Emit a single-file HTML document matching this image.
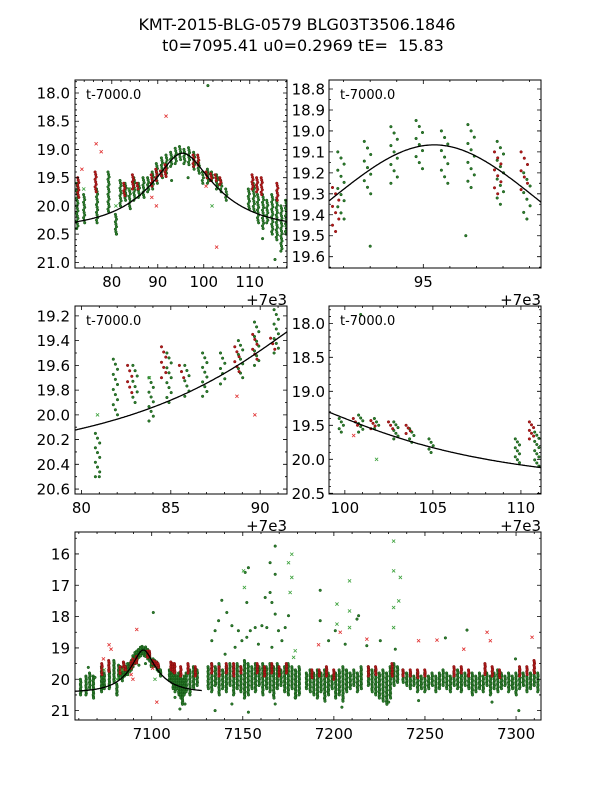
<!DOCTYPE html>
<html><head><meta charset="utf-8">
<style>
html,body{margin:0;padding:0;background:#fff;}
svg{display:block;font-family:"DejaVu Sans","Liberation Sans",sans-serif;}
</style></head>
<body>
<svg id="fig" width="600" height="800" viewBox="0 0 600 800" xmlns="http://www.w3.org/2000/svg">
<rect width="600" height="800" fill="#fff"/>
<text x="297" y="30" font-size="16" text-anchor="middle">KMT-2015-BLG-0579 BLG03T3506.1846</text>
<text x="303" y="51" font-size="16" text-anchor="middle" xml:space="preserve">t0=7095.41 u0=0.2969 tE=  15.83</text>
<g id="layer"></g>
</svg>
<script>
// model parameters
const t0 = 7095.41, u0 = 0.2969, tE = 15.83, baseMag = 20.42;

// green nightly strips: [time, brightest mag, faintest mag]
const greenNights = [
[7061,20.0,20.5],[7064,19.9,20.5],[7066,19.8,20.3],[7068,19.9,20.6],
[7072.5,19.6,20.4],[7074,19.8,20.3],[7076.8,19.7,20.3],[7079.3,19.4,20.1],[7080.9,20.15,20.5],
[7081.9,19.55,20.0],[7083,19.6,19.9],[7083.9,19.7,20.05],[7084.9,19.5,19.9],[7085.9,19.6,19.85],
[7086.9,19.5,19.85],[7087.9,19.5,19.75],[7088.9,19.4,19.7],[7089.8,19.25,19.6],[7090.9,19.15,19.5],
[7091.9,19.1,19.42],[7092.9,19.05,19.3],[7093.9,18.98,19.25],[7094.85,18.95,19.18],[7095.8,19.0,19.25],
[7096.8,18.97,19.27],[7097.9,19.05,19.35],[7098.9,19.2,19.42],[7099.8,19.4,19.6],[7100.9,19.35,19.6],
[7101.8,19.4,19.55],[7102.9,19.45,19.7],[7103.8,19.55,19.75],[7104.9,19.7,19.9],
[7109.8,19.7,20.05],[7110.9,19.6,20.1],[7111.8,19.8,20.3],[7112.9,19.8,20.4],[7113.8,19.9,20.3],
[7114.9,19.8,20.5],[7115.9,19.9,20.6],[7116.9,20.0,20.8],[7117.9,19.9,20.5],[7119,19.8,20.4],
[7121,19.7,20.5],[7123,19.6,20.3],[7125,19.7,20.2],
[7131,19.6,20.3],[7133,19.5,20.4],[7135,19.6,20.2],[7137,19.5,20.5],[7139,19.7,20.3],[7141,19.6,20.4],
[7143,19.5,20.2],[7145,19.6,20.5],[7147,19.5,20.3],[7149,19.6,20.4],[7151,19.4,20.6],[7153,19.5,20.5],
[7155,19.6,20.3],[7157,19.5,20.4],[7159,19.6,20.2],[7161,19.5,20.5],[7163,19.6,20.3],[7165,19.5,20.4],
[7167,19.6,20.6],[7169,19.5,20.3],[7171,19.7,20.2],[7173,19.6,20.4],[7175,19.5,20.5],[7177,19.6,20.3],
[7179,19.7,20.6],[7181,19.6,20.5],[7185,19.8,20.3],[7187,19.7,20.4],[7189,19.8,20.5],[7191,19.7,20.6],
[7193,19.8,20.4],[7195,19.7,20.7],[7197,19.8,20.5],[7199,19.9,20.3],[7201,19.8,20.6],[7203,19.7,20.5],
[7205,19.6,20.7],[7207,19.7,20.4],[7209,19.8,20.3],[7211,19.7,20.2],[7213,19.8,20.4],[7215,19.6,20.3],
[7219,19.6,20.2],[7221,19.7,20.4],[7223,19.7,20.5],[7225,19.8,20.6],[7227,19.7,20.7],[7229,19.8,20.8],
[7231,19.6,20.6],[7233,19.5,20.2],[7235,19.6,20.1],[7238,19.7,20.1],[7240,19.8,20.2],[7242,19.8,20.3],
[7244,19.9,20.2],[7246,19.8,20.4],[7248,19.9,20.3],[7250,19.8,20.4],[7252,19.9,20.3],[7254,19.8,20.2],
[7256,19.9,20.4],[7258,19.8,20.3],[7260,19.7,20.2],[7262,19.8,20.3],[7264,19.9,20.4],[7266,19.8,20.2],
[7268,19.7,20.3],[7270,19.8,20.4],[7272,19.8,20.2],[7274,19.9,20.3],[7276,19.8,20.5],[7278,19.9,20.4],
[7280,19.8,20.3],[7282,19.9,20.4],[7284,19.8,20.2],[7286,19.9,20.5],[7288,19.8,20.3],[7290,19.7,20.4],
[7292,19.8,20.3],[7294,19.9,20.2],[7296,19.8,20.4],[7298,19.9,20.3],[7300,19.8,20.5],[7302,19.7,20.3],
[7304,19.8,20.2],[7306,19.9,20.4],[7308,19.8,20.3],[7310,19.7,20.2],[7312,19.8,20.4]
];
// red nightly strips: [time, brightest mag, faintest mag]
const redNights = [
[7072.7,19.5,19.85],[7076.5,19.4,19.75],[7082.7,19.6,19.82],[7084.6,19.45,19.7],[7085.6,19.6,19.7],
[7088.7,19.45,19.65],[7089.7,19.35,19.55],[7090.7,19.38,19.47],[7091.7,19.27,19.48],[7097.8,19.1,19.3],
[7098.8,19.1,19.28],[7100.6,19.4,19.5],[7101.6,19.43,19.55],[7102.6,19.45,19.55],[7103.6,19.5,19.62],
[7110.6,19.45,19.7],[7111.6,19.5,19.75],[7112.6,19.5,19.8],[7116,19.6,19.9],[7120,19.5,19.8],[7124,19.6,19.9],
[7133,19.5,19.8],[7137,19.6,19.9],[7141,19.5,19.8],[7145,19.5,19.9],[7149,19.6,19.8],[7158,19.5,19.8],
[7162,19.6,19.9],[7166,19.5,19.8],[7170,19.6,19.9],[7174,19.5,19.8],[7188,19.7,19.95],[7192,19.7,19.9],
[7196,19.6,19.9],[7200,19.7,20.0],[7219,19.6,19.9],[7223,19.6,19.85],[7232,19.5,19.9],[7238,19.7,19.9],
[7242,19.7,19.9],[7246,19.7,19.95],[7250,19.7,19.9],[7266,19.6,19.9],[7270,19.6,19.8],[7274,19.7,19.9],
[7283,19.5,19.85],[7287,19.6,19.9],[7291,19.7,19.95],[7302,19.6,19.9],[7306,19.6,19.85],[7310,19.4,19.8]
];
// isolated green points: times and mags
const greenOutT = [7138.5,7141.2,7134.8,7133.0,7136.7,7144.0,7147.6,7149.5,7152.2,7154.1,7152.2,7151.3,7153.1,7156.8,7160.5,7163.2,7162.3,7165.0,7166.0,7167.8,7165.0,7167.8,7167.8,7169.6,7173.3,7175.1,7171.5,7145.8,7140.3,7158.6,7166.0,7192.5,7192.5,7213.6,7212.7,7200.8,7197.1,7206.2,7218.1,7225.5,7100.9,7273.1,7261.2,7233.7,7299.7,7065.2,7068.9,7134.8,7144.0,7153.1,7167.8,7178.8,7197.1,7204.4,7230.1,7246.5,7286.8,7301.5,7118.3,7112.8,7093.0,7096.6,7081.0,7115.5];
const greenOutM = [17.48,17.87,18.45,18.77,18.13,18.29,18.45,18.77,18.66,18.45,17.55,16.59,16.44,18.35,18.29,18.35,17.39,17.23,17.55,16.65,16.28,15.75,17.92,18.45,18.35,17.97,18.77,18.98,19.2,18.88,18.98,17.16,18.13,17.97,18.08,18.45,18.77,18.88,18.93,18.77,17.87,18.43,18.68,19.04,19.35,19.62,19.94,21.0,20.79,21.05,20.79,20.58,20.36,20.89,20.73,20.68,20.73,21.0,20.79,20.58,19.55,19.5,20.5,20.95];
// cross markers (flagged points)
const greenXT = [7150.4,7150.9,7175.1,7176.9,7176.9,7176.0,7232.8,7232.8,7236.5,7232.8,7235.6,7232.8,7208.6,7208.6,7201.7,7201.7,7208.6,7178.8,7177.9,7080.9,7073.9,7083.8,7101.8];
const greenXM = [16.54,17.07,16.28,16.01,16.75,17.23,15.59,16.54,16.75,17.71,17.5,18.35,16.86,17.82,17.6,18.24,18.35,19.09,19.3,20.0,19.7,19.7,20.0];
const redXT = [7091.8,7077.7,7246.5,7256.6,7271.3,7284.1,7285.9,7308.8,7218.1,7191.6,7203.5,7102.8,7076.6,7073.5,7088.7,7089.7,7100.5];
const redXM = [18.41,19.04,18.77,18.75,19.04,18.5,18.77,18.66,18.72,18.9,18.5,20.73,18.9,19.35,19.85,20.0,19.65];

// panel geometry: [left, top, right, bottom], x range, y range (inverted)
const panels = [
 {name:'panel-peak-wide', box:[75,80,287,268], x:[7072,7118.1], y:[17.77,21.1], xt:[7080,7090,7100,7110], xm:2, yt:[18.0,18.5,19.0,19.5,20.0,20.5,21.0], ym:0.1, yd:1, lab:[70], off:true, model:[7060,7130], step:0.045},
 {name:'panel-peak-zoom', box:[329,80,541,268], x:[7091.45,7099.43], y:[18.757,19.654], xt:[7095], xm:1, yt:[18.8,18.9,19.0,19.1,19.2,19.3,19.4,19.5,19.6], ym:0.05, yd:1, lab:[325], off:true, model:[7060,7130], step:0.03},
 {name:'panel-rise', box:[75,306,287,494], x:[7079.64,7091.5], y:[19.12,20.64], xt:[7080,7085,7090], xm:1, yt:[19.2,19.4,19.6,19.8,20.0,20.2,20.4,20.6], ym:0.1, yd:1, lab:[70], off:true, model:[7060,7130], step:0.04},
 {name:'panel-fall', box:[329,306,541,494], x:[7099.1,7111.14], y:[17.745,20.51], xt:[7100,7105,7110], xm:1, yt:[18.0,18.5,19.0,19.5,20.0,20.5], ym:0.1, yd:1, lab:[325], off:true, model:[7060,7130], step:0.045},
 {name:'panel-season', box:[75,532,541,720], x:[7057.9,7313.7], y:[15.3,21.3], xt:[7100,7150,7200,7250,7300], xm:10, yt:[16,17,18,19,20,21], ym:0.5, yd:0, lab:[70], off:false, model:[7057.9,7127.5], step:0.05}
];

const NS='http://www.w3.org/2000/svg';
const layer=document.getElementById('layer');
function mk(tag,attrs,parent){const e=document.createElementNS(NS,tag);for(const k in attrs)e.setAttribute(k,attrs[k]);(parent||layer).appendChild(e);return e;}
function modelMag(t){const tau=(t-t0)/tE;const u=Math.sqrt(u0*u0+tau*tau);const A=(u*u+2)/(u*Math.sqrt(u*u+4));return baseMag-2.5*Math.log10(A);}

panels.forEach((p,pi)=>{
  const [L,T,R,B]=p.box;
  const sx=t=>L+(t-p.x[0])/(p.x[1]-p.x[0])*(R-L);
  const sy=m=>T+(m-p.y[0])/(p.y[1]-p.y[0])*(B-T);
  if(p.off){
    const o=mk('text',{x:R,y:B+37,'font-size':15,'text-anchor':'end'});
    
    
    o.textContent='+7e3';
  }
  const g=mk('g',{});
  
  
  mk('rect',{x:L,y:T,width:R-L,height:B-T,fill:'#fff'},g);
  const cp=mk('clipPath',{id:'cp'+pi},g);
  mk('rect',{x:L,y:T,width:R-L,height:B-T},cp);
  const d=mk('g',{'clip-path':'url(#cp'+pi+')'},g);
  
  
  const inX=t=>t>=p.x[0]-1&&t<=p.x[1]+1;
  function dot(t,m,fill,stroke){mk('circle',{cx:sx(t).toFixed(1),cy:sy(m).toFixed(1),r:1.3,fill:fill,stroke:stroke,'stroke-width':0.5},d);}
  function cross(t,m,col){const x=sx(t),y=sy(m),s=1.6;mk('path',{d:`M${x-s},${y-s}L${x+s},${y+s}M${x-s},${y+s}L${x+s},${y-s}`,stroke:col,'stroke-width':0.8,fill:'none'},d);}
  function strips(arr,fill,stroke){
    arr.forEach(n=>{
      if(!inX(n[0]))return;
      const k=Math.max(2,Math.round((n[2]-n[1])/p.step)+1);
      for(let i=0;i<k;i++){const m=n[1]+(n[2]-n[1])*i/(k-1);const dt=((i%3)-1)*0.12;dot(n[0]+dt,m,fill,stroke);}
    });
  }
  strips(greenNights,'#2f7d2f','#0d4f0d');
  strips(redNights,'#b41a1a','#7a0c0c');
  greenOutT.forEach((t,i)=>{if(inX(t))dot(t,greenOutM[i],'#2f7d2f','#0d4f0d');});
  greenXT.forEach((t,i)=>{if(inX(t))cross(t,greenXM[i],'#3aa03a');});
  redXT.forEach((t,i)=>{if(inX(t))cross(t,redXM[i],'#e03030');});
  // model curve
  let pts=[];
  const a=Math.max(p.model[0],p.x[0]),b=Math.min(p.model[1],p.x[1]);
  for(let i=0;i<=200;i++){const t=a+(b-a)*i/200;pts.push(sx(t).toFixed(1)+','+sy(modelMag(t)).toFixed(1));}
  const cv=mk('polyline',{points:pts.join(' '),fill:'none',stroke:'#000','stroke-width':1.3},d);
  
  
  // frame
  mk('rect',{x:L,y:T,width:R-L,height:B-T,fill:'none',stroke:'#000','stroke-width':1},g);
  // ticks
  let tk='';
  const x0=Math.ceil(p.x[0]/p.xm)*p.xm;
  for(let t=x0;t<=p.x[1];t+=p.xm){const x=sx(t);const maj=p.xt.some(v=>Math.abs(v-t)<1e-6);const l=maj?4:2;tk+=`M${x},${B}v${-l}M${x},${T}v${l}`;}
  const y0=Math.ceil(p.y[0]/p.ym-1e-6)*p.ym;
  for(let m=y0;m<=p.y[1]+1e-9;m+=p.ym){const y=sy(m);const maj=p.yt.some(v=>Math.abs(v-m)<1e-6);const l=maj?4:2;tk+=`M${L},${y}h${l}M${R},${y}h${-l}`;}
  mk('path',{d:tk,stroke:'#000','stroke-width':0.8,fill:'none'},g);
  p.xt.forEach(t=>{const e=mk('text',{x:sx(t),y:B+19,'font-size':15,'text-anchor':'middle'},g);e.textContent=String(t-(pi===4?0:7000));});
  p.yt.forEach(m=>{const e=mk('text',{x:p.lab[0],y:sy(m)+5.5,'font-size':15,'text-anchor':'end'},g);e.textContent=m.toFixed(p.yd);});
  if(pi<4){const e=mk('text',{x:L+11,y:T+19,'font-size':13},g);e.textContent='t-7000.0';}
});
</script>
</body></html>
